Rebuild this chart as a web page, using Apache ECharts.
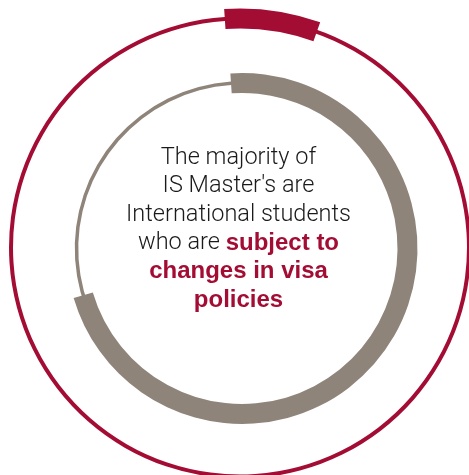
<!DOCTYPE html>
<html>
<head>
<meta charset="utf-8">
<script src="https://cdn.jsdelivr.net/npm/echarts@6/dist/echarts.min.js"></script>
<style>html,body{margin:0;padding:0;background:#fff;}#c{width:469px;height:475px;}</style>
</head>
<body>
<div id="c"></div>
<script>
// Data
const ringNames = ['Outer ring', 'Inner ring'];
const ringValues = [6.5, 71.5];          // highlighted share (%)
const ringTotal = 100;
const textLines = [
  [['n', 'The majority of']],
  [['n', "IS Master's are"]],
  [['n', 'International students']],
  [['n', 'who are '], ['b', 'subject to']],
  [['b', 'changes in visa']],
  [['b', 'policies']]
];

const RED = '#a30d34';
const GREY = '#8f847a';

function ring(name, center, rThin, wThin, rThick, wThick, color, value) {
  const common = {
    type: 'pie', center: center, silent: true, startAngle: 93.8, clockwise: true,
    label: { show: false }, labelLine: { show: false }, emphasis: { disabled: true },
    animation: false
  };
  return [
    Object.assign({}, common, {
      name: name + ' base',
      radius: [rThin - wThin / 2, rThin + wThin / 2],
      data: [{ value: ringTotal, itemStyle: { color: color } }]
    }),
    Object.assign({}, common, {
      name: name,
      radius: [rThick - wThick / 2, rThick + wThick / 2],
      data: [
        { value: value, itemStyle: { color: color } },
        { value: ringTotal - value, itemStyle: { color: 'transparent' } }
      ]
    })
  ];
}

const richText = textLines.map(line => line.map(([k, t]) => '{' + k + '|' + t + '}').join('')).join('\n');

const chart = echarts.init(document.getElementById('c'), null, { renderer: 'canvas' });
chart.setOption({
  backgroundColor: '#fff',
  series: [].concat(
    ring(ringNames[0], [240, 247.5], 229, 4, 229, 20, RED, ringValues[0]),
    ring(ringNames[1], [242, 248.5], 165.5, 3.5, 165.5, 20, GREY, ringValues[1])
  ),
  graphic: [{
    type: 'text',
    x: 238.5,
    y: 143.5,
    silent: true,
    style: {
      text: richText,
      textAlign: 'center',
      textVerticalAlign: 'top',
      fill: '#1a1a1a',
      rich: {
        n: { fontFamily: 'Roboto', fontWeight: 300, fontSize: 23.5, lineHeight: 28.5, fill: '#1a1a1a', align: 'center' },
        b: { fontFamily: 'Liberation Sans', fontWeight: 'bold', fontSize: 24, lineHeight: 28.5, fill: RED, align: 'center' }
      }
    }
  }]
});
</script>
</body>
</html>
